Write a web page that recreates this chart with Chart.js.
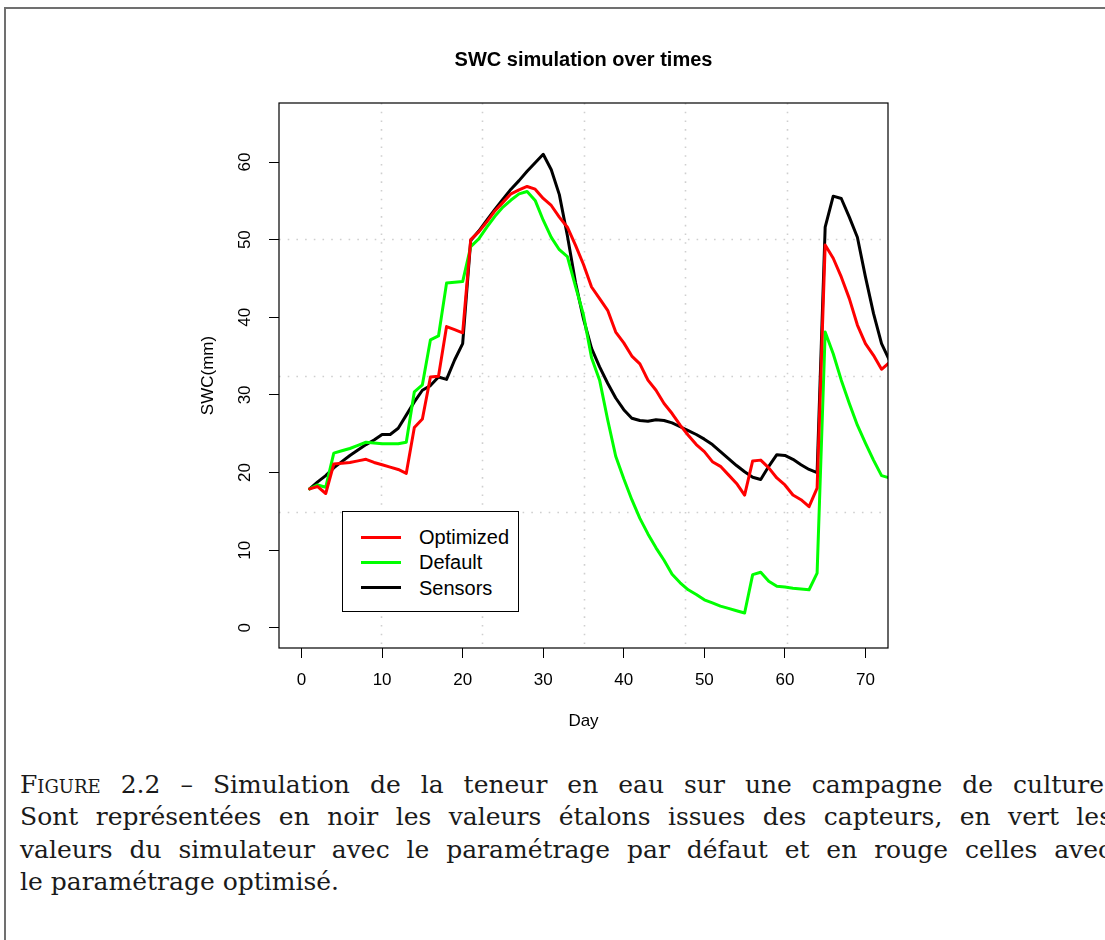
<!DOCTYPE html>
<html>
<head>
<meta charset="utf-8">
<script src="https://cdn.jsdelivr.net/npm/chart.js@4.4.1/dist/chart.umd.min.js"></script>
<style>
  html, body { margin: 0; padding: 0; background: #fff; overflow: hidden; }
  body { width: 1105px; height: 940px; position: relative; }
  .frame-top { position: absolute; left: 4px; top: 7px; width: 1101px; height: 2px; background: #707070; }
  .frame-left { position: absolute; left: 4px; top: 7px; width: 2px; height: 933px; background: #707070; }
  #wrap { position: absolute; left: 0; top: 0; width: 1105px; height: 760px; }
  .legend { position: absolute; left: 342px; top: 511px; width: 177px; height: 101px;
    border: 1px solid #000; background: #fff; box-sizing: border-box;
    font-family: "Liberation Sans", Arial, sans-serif; font-size: 20px; color: #000; }
  .legend .row { position: absolute; left: 0; height: 24px; line-height: 24px; }
  .legend .swatch { position: absolute; left: 18px; top: 10.5px; width: 40px; height: 3px; }
  .legend .txt { position: absolute; left: 76px; top: 0; white-space: nowrap; }
  .caption { position: absolute; left: 20px; top: 769px; width: 1092px;
    font-family: "DejaVu Serif", "Liberation Serif", serif; font-size: 25px; line-height: 32.4px; color: #1a1a1a; }
  .caption .ln { text-align: justify; text-align-last: justify; white-space: nowrap; height: 32.4px; }
  .caption .last { text-align-last: left; }
  .sc { font-variant: small-caps; }
</style>
</head>
<body>
<div class="frame-top"></div>
<div class="frame-left"></div>
<div id="wrap"><canvas id="myChart" width="1105" height="760"></canvas></div>
<div class="legend" id="legend"></div>
<div class="caption">
  <div class="ln"><span class="sc">Figure</span> 2.2 – Simulation de la teneur en eau sur une campagne de culture.</div>
  <div class="ln">Sont représentées en noir les valeurs étalons issues des capteurs, en vert les</div>
  <div class="ln">valeurs du simulateur avec le paramétrage par défaut et en rouge celles avec</div>
  <div class="ln last">le paramétrage optimisé.</div>
</div>
<script>
const chartTitle = 'SWC simulation over times';
const xTitle = 'Day';
const yTitle = 'SWC(mm)';
const seriesNames = ['Optimized', 'Default', 'Sensors'];
const seriesColors = ['#ff0000', '#00ff00', '#000000'];

const days = [1, 2, 3, 4, 5, 6, 7, 8, 9, 10, 11, 12, 13, 14, 15, 16, 17, 18, 19, 20,
  21, 22, 23, 24, 25, 26, 27, 28, 29, 30, 31, 32, 33, 34, 35, 36, 37, 38, 39, 40,
  41, 42, 43, 44, 45, 46, 47, 48, 49, 50, 51, 52, 53, 54, 55, 56, 57, 58, 59, 60,
  61, 62, 63, 64, 65, 66, 67, 68, 69, 70, 71, 72, 73];

const optimized = [17.9, 18.2, 17.3, 21.1, 21.2, 21.3, 21.5, 21.7, 21.3, 21.0,
  20.7, 20.4, 19.9, 25.8, 26.9, 32.3, 32.4, 38.8, 38.4, 38.0,
  50.0, 51.0, 52.3, 53.7, 54.8, 55.9, 56.4, 56.85, 56.5, 55.3,
  54.4, 52.9, 51.6, 49.3, 46.8, 43.9, 42.4, 40.9, 38.1, 36.7,
  35.0, 34.0, 31.9, 30.6, 28.9, 27.6, 26.1, 24.8, 23.6, 22.7,
  21.4, 20.8, 19.7, 18.6, 17.1, 21.5, 21.6, 20.6, 19.3, 18.4,
  17.1, 16.5, 15.6, 18.0, 49.3, 47.6, 45.2, 42.4, 39.0, 36.6,
  35.1, 33.3, 34.2];

const defaults = [17.9, 18.4, 18.1, 22.5, 22.8, 23.1, 23.5, 23.9, 23.8, 23.7,
  23.7, 23.7, 23.9, 30.4, 31.3, 37.1, 37.6, 44.4, 44.5, 44.6,
  49.1, 50.1, 51.6, 53.0, 54.2, 55.1, 55.9, 56.2, 55.05, 52.5,
  50.3, 48.7, 47.8, 44.0, 40.3, 34.8, 31.9, 26.8, 22.1, 19.2,
  16.5, 14.1, 12.1, 10.3, 8.7, 6.9, 5.8, 4.9, 4.3, 3.6,
  3.2, 2.8, 2.5, 2.2, 1.9, 6.85, 7.15, 6.0, 5.35, 5.25,
  5.1, 5.0, 4.9, 7.05, 38.1, 35.3, 31.9, 28.9, 26.1, 23.8,
  21.6, 19.6, 19.3];

const sensors = [17.9, 18.8, 19.6, 20.6, 21.4, 22.2, 22.9, 23.6, 24.2, 24.9,
  24.9, 25.7, 27.4, 29.1, 30.6, 31.2, 32.3, 32.0, 34.5, 36.6,
  49.9, 51.1, 52.5, 53.9, 55.2, 56.5, 57.6, 58.8, 59.9, 61.0,
  59.0, 55.8, 50.5, 44.5, 39.8, 36.0, 33.6, 31.5, 29.6, 28.1,
  27.0, 26.7, 26.6, 26.8, 26.7, 26.4, 25.9, 25.4, 24.9, 24.3,
  23.6, 22.7, 21.8, 20.9, 20.1, 19.4, 19.1, 20.8, 22.3, 22.2,
  21.7, 21.0, 20.4, 20.0, 51.6, 55.6, 55.3, 52.9, 50.3, 45.2,
  40.5, 36.6, 34.4];

const xTicks = [0, 10, 20, 30, 40, 50, 60, 70];
const yTicks = [0, 10, 20, 30, 40, 50, 60];

const seriesData = [optimized, defaults, sensors];

// legend box like R's legend()
const legendEl = document.getElementById('legend');
seriesNames.forEach((name, i) => {
  const row = document.createElement('div');
  row.className = 'row';
  row.style.top = (13 + i * 25.3) + 'px';
  row.innerHTML = `<div class="swatch" style="background:${seriesColors[i]}"></div><div class="txt">${name}</div>`;
  legendEl.appendChild(row);
});

// R-like frame, dotted grid (grid(6, 4)) and main title
const rStyle = {
  id: 'rStyle',
  beforeDatasetsDraw(chart) {
    const { ctx, chartArea: a, scales } = chart;
    ctx.save();
    ctx.strokeStyle = '#cfcfcf';
    ctx.lineWidth = 1.6;
    ctx.setLineDash([1.6, 7.1]);
    const xs = scales.x, ys = scales.y;
    for (let k = 1; k < 6; k++) {
      const v = xs.min + (xs.max - xs.min) * k / 6;
      const px = Math.round(xs.getPixelForValue(v)) + 0.5;
      ctx.beginPath(); ctx.moveTo(px, a.top); ctx.lineTo(px, a.bottom); ctx.stroke();
    }
    for (let k = 1; k < 4; k++) {
      const v = ys.min + (ys.max - ys.min) * k / 4;
      const py = Math.round(ys.getPixelForValue(v)) + 0.5;
      ctx.beginPath(); ctx.moveTo(a.left, py); ctx.lineTo(a.right, py); ctx.stroke();
    }
    ctx.restore();
  },
  afterDraw(chart) {
    const { ctx, chartArea: a } = chart;
    ctx.save();
    ctx.strokeStyle = '#000';
    ctx.lineWidth = 1.2;
    ctx.strokeRect(a.left, a.top, a.right - a.left, a.bottom - a.top);
    ctx.fillStyle = '#000';
    ctx.font = 'bold 20px "Liberation Sans", Arial, sans-serif';
    ctx.textAlign = 'center';
    ctx.textBaseline = 'middle';
    ctx.fillText(chartTitle, (a.left + a.right) / 2, 60);
    ctx.restore();
  }
};

const ctx = document.getElementById('myChart').getContext('2d');
const chart = new Chart(ctx, {
  type: 'line',
  data: {
    datasets: seriesNames.map((name, i) => ({
      label: name,
      data: days.map((d, j) => ({ x: d, y: seriesData[i][j] })),
      borderColor: seriesColors[i],
      backgroundColor: seriesColors[i],
      borderWidth: 3,
      pointRadius: 0,
      tension: 0,
      borderJoinStyle: 'round',
      borderCapStyle: 'round',
      clip: 0,
    })),
  },
  options: {
    responsive: false,
    animation: false,
    layout: { padding: { top: 103, right: 217, bottom: 0, left: 0 } },
    plugins: {
      legend: { display: false },
      tooltip: { enabled: false },
      title: { display: false },
    },
    scales: {
      x: {
        type: 'linear',
        min: -2.8,
        max: 72.8,
        afterBuildTicks: (s) => { s.ticks = xTicks.map((v) => ({ value: v })); },
        afterFit: (s) => { s.height = 112; },
        border: { display: false },
        grid: { drawOnChartArea: false, drawTicks: true, tickLength: 10, color: '#000', lineWidth: 1 },
        ticks: {
          color: '#000',
          padding: 12,
          maxRotation: 0,
          font: { family: '"Liberation Sans", Arial, sans-serif', size: 17 },
        },
        title: {
          display: true,
          text: xTitle,
          color: '#000',
          padding: { top: 0, bottom: 28 },
          font: { family: '"Liberation Sans", Arial, sans-serif', size: 17 },
        },
      },
      y: {
        type: 'linear',
        min: -2.6,
        max: 67.6,
        afterBuildTicks: (s) => { s.ticks = yTicks.map((v) => ({ value: v })); },
        afterFit: (s) => { s.width = 279; },
        border: { display: false },
        grid: { drawOnChartArea: false, drawTicks: true, tickLength: 10, color: '#000', lineWidth: 1 },
        ticks: {
          color: '#000',
          padding: 14,
          minRotation: 90,
          maxRotation: 90,
          crossAlign: 'center',
          font: { family: '"Liberation Sans", Arial, sans-serif', size: 17 },
        },
        title: {
          display: true,
          text: yTitle,
          color: '#000',
          padding: { top: 198, bottom: 0 },
          font: { family: '"Liberation Sans", Arial, sans-serif', size: 17 },
        },
      },
    },
  },
  plugins: [rStyle],
});
</script>
</body>
</html>
